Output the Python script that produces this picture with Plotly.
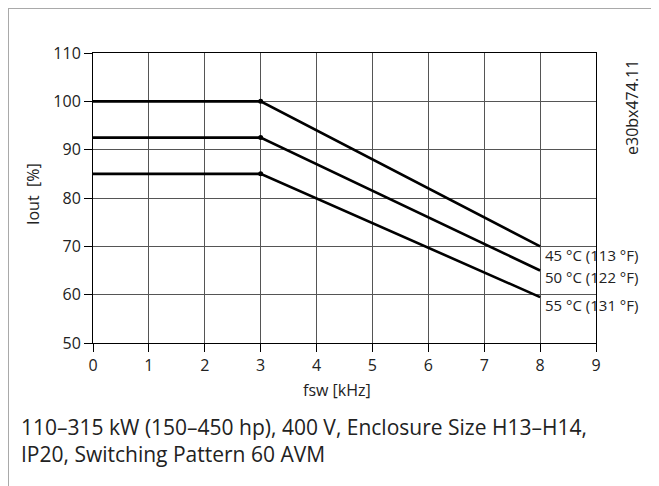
import plotly.graph_objects as go

fsw = [0, 3, 8]
curves = {
    "45 °C (113 °F)": [100, 100, 70],
    "50 °C (122 °F)": [92.5, 92.5, 65],
    "55 °C (131 °F)": [85, 85, 59.5],
}
label_y = [68.3, 63.7, 57.9]
x_ticks = list(range(0, 10))
y_ticks = list(range(50, 111, 10))

FONT = "Open Sans"
OFF = 8  # page body margin
W, H = 659 - OFF, 486 - OFF
L, T = 93 - OFF, 53 - OFF
R = W - (596 - OFF)
B = H - (343 - OFF)
pw, ph = W - L - R, H - T - B


def px2paper_x(px):
    return (px - OFF - L) / pw


def py2paper_y(py):
    return (H - B - (py - OFF)) / ph


fig = go.Figure()
for name, vals in curves.items():
    fig.add_trace(go.Scatter(x=fsw, y=vals, mode="lines", line=dict(color="black", width=2.6),
                             showlegend=False, hoverinfo="skip"))
    fig.add_trace(go.Scatter(x=[fsw[1]], y=[vals[1]], mode="markers",
                             marker=dict(color="black", size=5), showlegend=False, hoverinfo="skip"))

for (name, vals), ly in zip(curves.items(), label_y):
    fig.add_annotation(x=8, y=ly, text=name, xanchor="left", yanchor="middle", showarrow=False,
                       xshift=3, font=dict(family=FONT, size=15, color="#222"))

fig.update_xaxes(range=[0, 9], tickvals=x_ticks, showgrid=True, gridcolor="#555", gridwidth=1,
                 showline=True, linecolor="black", linewidth=1, mirror=True, ticks="outside",
                 ticklen=8, tickcolor="black", zeroline=False,
                 tickfont=dict(family=FONT, size=16, color="#222"))
fig.update_yaxes(range=[50, 110], tickvals=y_ticks, showgrid=True, gridcolor="#555", gridwidth=1,
                 showline=True, linecolor="black", linewidth=1, mirror=True, ticks="outside",
                 ticklen=8, tickcolor="black", zeroline=False,
                 tickfont=dict(family=FONT, size=16, color="#222"))

# axis titles
fig.add_annotation(xref="paper", yref="paper", x=px2paper_x(337), y=py2paper_y(390), text="fsw [kHz]",
                   showarrow=False, xanchor="center", yanchor="middle",
                   font=dict(family=FONT, size=16, color="#222"))
fig.add_annotation(xref="paper", yref="paper", x=px2paper_x(33), y=py2paper_y(194), text="Iout  [%]",
                   textangle=-90, showarrow=False, xanchor="center", yanchor="middle",
                   font=dict(family=FONT, size=16, color="#222"))

# frame
fig.add_shape(type="line", xref="paper", yref="paper", x0=px2paper_x(7), x1=px2paper_x(665),
              y0=py2paper_y(8), y1=py2paper_y(8), line=dict(color="#a9a9a9", width=2))
fig.add_shape(type="line", xref="paper", yref="paper", x0=px2paper_x(8), x1=px2paper_x(8),
              y0=py2paper_y(7), y1=py2paper_y(495), line=dict(color="#a9a9a9", width=2))

fig.add_annotation(xref="paper", yref="paper", x=px2paper_x(632), y=py2paper_y(108), text="e30bx474.11",
                   textangle=-90, showarrow=False, xanchor="center", yanchor="middle",
                   font=dict(family=FONT, size=16, color="#222"))

fig.add_annotation(xref="paper", yref="paper", x=px2paper_x(19), y=py2paper_y(440),
                   text="110–315 kW (150–450 hp), 400 V, Enclosure Size H13–H14,<br>IP20, Switching Pattern 60 AVM",
                   showarrow=False, xanchor="left", yanchor="middle", align="left",
                   font=dict(family=FONT, size=21, color="#222"))

fig.update_layout(width=W, height=H, margin=dict(l=L, r=R, t=T, b=B),
                  paper_bgcolor="white", plot_bgcolor="white")
fig.write_html("out.html")
